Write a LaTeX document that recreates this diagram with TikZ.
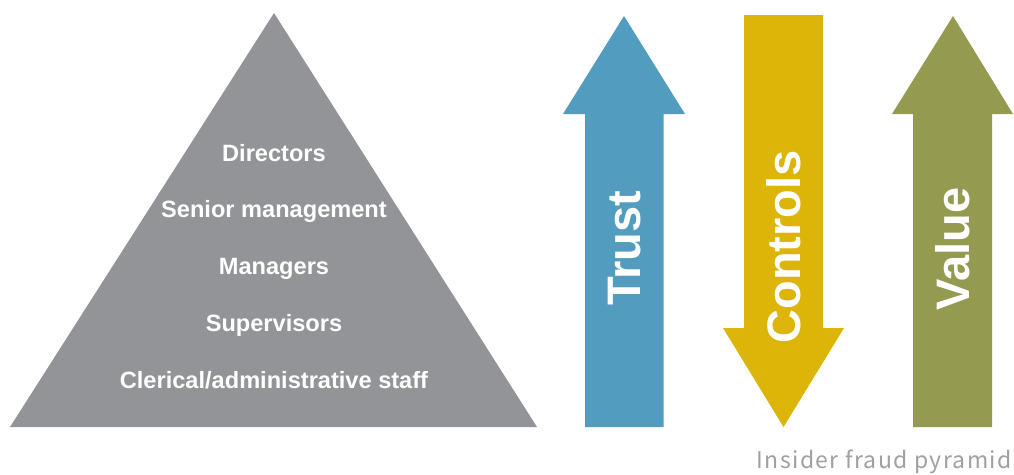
\documentclass[tikz,border=0pt]{standalone}
\usepackage{fontspec}
\setmainfont{Liberation Sans}
\newfontfamily\captionfont[LetterSpace=6]{Noto Sans CJK JP}
\definecolor{pyrgray}{HTML}{929497}
\definecolor{trustblue}{HTML}{529DBF}
\definecolor{ctrlyellow}{HTML}{DDB408}
\definecolor{valuegreen}{HTML}{949A4F}
\definecolor{captiongray}{HTML}{A0A0A0}
\begin{document}
\begin{tikzpicture}[x=1pt,y=-1pt,
  tier/.style={text=white,font=\fontsize{23.6}{23.6}\selectfont\bfseries,anchor=base,inner sep=0pt},
  arrowlabel/.style={text=white,font=\fontsize{47}{47}\selectfont\bfseries,rotate=90,inner sep=0pt,anchor=center}]
\useasboundingbox (0,0) rectangle (1014,474);

% hierarchy pyramid
\fill[pyrgray] (274,13) -- (537,427) -- (10,427) -- cycle;
\node[tier] (directors) at (274,161) {Directors};
\node[tier] (senior) at (274,217.5) {Senior management};
\node[tier] (managers) at (274,274) {Managers};
\node[tier] (supervisors) at (274,331) {Supervisors};
\node[tier] (clerical) at (274,388) {Clerical/administrative staff};

% upward arrow: trust
\fill[trustblue] (624,16) -- (685,114) -- (663.5,114) -- (663.5,427)
  -- (585,427) -- (585,114) -- (563,114) -- cycle;
\node[arrowlabel] (trust) at (624.5,248) {Trust};

% downward arrow: controls
\fill[ctrlyellow] (744,15) -- (823,15) -- (823,328) -- (844,328)
  -- (783.5,427) -- (723,328) -- (744,328) -- cycle;
\node[arrowlabel] (controls) at (783.5,247) {Controls};

% upward arrow: value
\fill[valuegreen] (953,16) -- (1013,114) -- (992,114) -- (992,427)
  -- (913,427) -- (913,114) -- (892,114) -- cycle;
\node[arrowlabel] (value) at (953,249) {Value};

% caption
\node[anchor=base east,inner sep=0pt,text=captiongray,
  font=\captionfont\fontsize{23}{23}\selectfont] (caption) at (1012,468) {Insider fraud pyramid};
\end{tikzpicture}
\end{document}
